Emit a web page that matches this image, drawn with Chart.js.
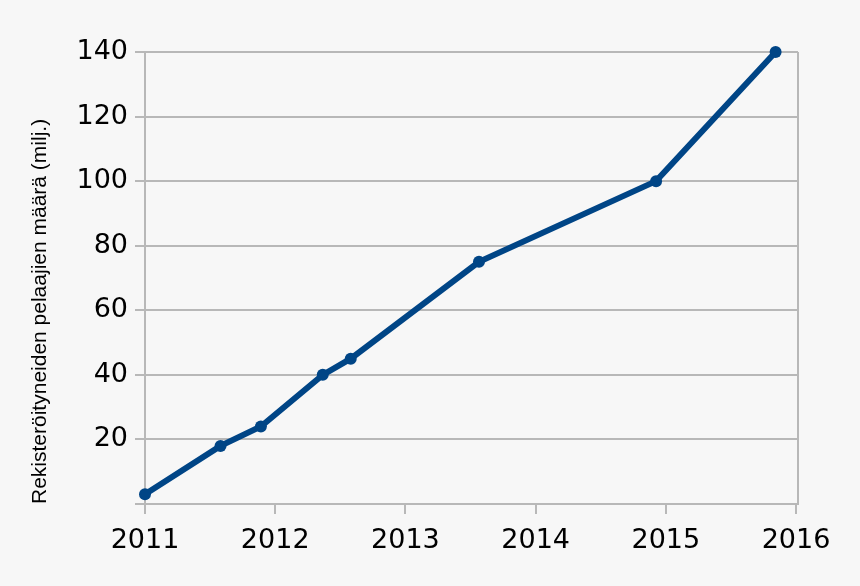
<!DOCTYPE html>
<html>
<head>
<meta charset="utf-8">
<script src="https://cdn.jsdelivr.net/npm/chart.js@4"></script>
<style>
  html, body { margin: 0; padding: 0; background: #f7f7f7; }
  #wrap { width: 860px; height: 586px; }
</style>
</head>
<body>
<div id="wrap"><canvas id="chart"></canvas></div>
<script>
/* DATA */
const years = [2011.0, 2011.58, 2011.89, 2012.365, 2012.58, 2013.565, 2014.925, 2015.843];
const players = [3, 18, 24, 40, 45, 75, 100, 140];
const xTicks = [2011, 2012, 2013, 2014, 2015, 2016];
const yTicks = [0, 20, 40, 60, 80, 100, 120, 140];
const yTitle = "Rekisteröityneiden pelaajien määrä (milj.)";

const gridColor = "#b8b8b8";

/* right frame line */
const frame = {
  id: "frame",
  beforeDatasetsDraw(chart) {
    const { ctx, chartArea: a } = chart;
    ctx.save();
    ctx.strokeStyle = gridColor;
    ctx.lineWidth = 2;
    ctx.beginPath();
    ctx.moveTo(a.right, a.top);
    ctx.lineTo(a.right, a.bottom);
    ctx.stroke();
    ctx.restore();
  }
};

new Chart(document.getElementById("chart"), {
  type: "line",
  data: {
    datasets: [{
      data: years.map((x, i) => ({ x, y: players[i] })),
      borderColor: "#004586",
      backgroundColor: "#004586",
      borderWidth: 6,
      pointRadius: 6,
      pointBorderWidth: 0,
      pointHoverRadius: 6,
      tension: 0,
      clip: false
    }]
  },
  options: {
    responsive: true,
    maintainAspectRatio: false,
    animation: false,
    layout: { padding: { left: 25, right: 62, top: 52, bottom: 0 } },
    plugins: { legend: { display: false }, tooltip: { enabled: false } },
    scales: {
      x: {
        type: "linear",
        min: 2011,
        max: 2016.015,
        afterBuildTicks: s => { s.ticks = xTicks.map(v => ({ value: v })); },
        afterFit: s => { s.height = 82; },
        grid: { drawOnChartArea: false, drawTicks: true, tickLength: 10, color: gridColor, lineWidth: 2 },
        border: { color: gridColor, width: 2 },
        ticks: {
          color: "#000",
          padding: 11,
          font: { family: "DejaVu Sans", size: 27 },
          callback: v => String(v)
        }
      },
      y: {
        min: 0,
        max: 140,
        afterBuildTicks: s => { s.ticks = yTicks.map(v => ({ value: v })); },
        afterFit: s => { s.width = 120; },
        grid: { color: gridColor, lineWidth: 2, tickLength: 10 },
        border: { color: gridColor, width: 2 },
        ticks: {
          color: "#000",
          padding: 7,
          font: { family: "DejaVu Sans", size: 27 },
          callback: v => (v === 0 ? "" : String(v))
        },
        title: {
          display: true,
          text: yTitle,
          align: "start",
          color: "#000",
          padding: { top: 3, bottom: 0 },
          font: { family: "Liberation Sans", size: 21 }
        }
      }
    }
  },
  plugins: [frame]
});
</script>
</body>
</html>
